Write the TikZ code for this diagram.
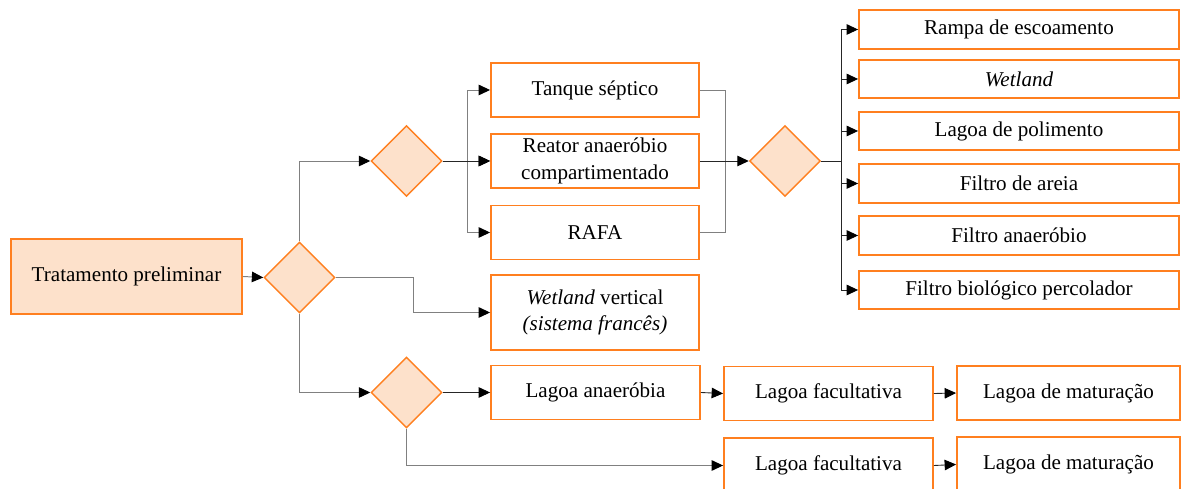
\documentclass[tikz,border=0pt]{standalone}
\usepackage{fontspec}
\setmainfont{Liberation Serif}
\usepackage{tikz}
\usetikzlibrary{shapes.geometric,arrows.meta}
\definecolor{borda}{HTML}{FF7F1F}
\definecolor{pessego}{HTML}{FDE1CB}
\definecolor{linha}{HTML}{808080}
\tikzset{
caixa/.style={draw=borda,line width=1.1pt,fill=white,minimum width=4.16cm,minimum height=1.08cm,align=center,inner sep=0pt,font=\fontsize{12}{15}\selectfont},
decisao/.style={diamond,draw=borda,line width=0.85pt,fill=pessego,minimum width=1.42cm,minimum height=1.42cm,inner sep=0pt},
ligacao/.style={draw=linha,line width=0.55pt},
seta/.style={draw=black!85,line width=0.5pt,-{Triangle[length=6.5pt,width=6pt,color=black]}},
setacinza/.style={ligacao,-{Triangle[length=6.5pt,width=6pt,color=black]}}
}

\begin{document}
\begin{tikzpicture}[x=0.02cm,y=-0.02cm]
\useasboundingbox(0,0)rectangle(1181,489);
\node[caixa,fill=pessego,minimum width=4.62cm,minimum height=1.5cm](prelim)at(126.5,276.5){Tratamento preliminar};
\node[decisao](d1)at(299.5,277.5){};
\node[decisao](d2)at(406.5,161){};
\node[decisao](d3)at(406.5,392.5){};
\node[decisao](d4)at(785,161){};
\node[caixa](tanque)at(595,90){Tanque séptico};
\node[caixa](reator)at(595,161){Reator anaeróbio\\compartimentado};
\node[caixa](rafa)at(595,232.5){RAFA};
\node[caixa,minimum height=1.5cm](wvert)at(595,312.5){\textit{Wetland} vertical\\\textit{(sistema francês)}};
\node[caixa,minimum width=4.18cm](lanaer)at(595.5,392.5){Lagoa anaeróbia};
\node[caixa,minimum width=4.18cm](lfac1)at(828.5,393.5){Lagoa facultativa};
\node[caixa,minimum width=4.46cm](lmat1)at(1068.5,393){Lagoa de maturação};
\node[caixa,minimum width=4.18cm,minimum height=1.1cm](lfac2)at(828.5,465.5){Lagoa facultativa};
\node[caixa,minimum width=4.46cm,minimum height=1.1cm](lmat2)at(1068.5,464.5){Lagoa de maturação};
\foreach\nome/\y/\texto in{r1/29.5/Rampa de escoamento,r2/79/\textit{Wetland},r3/131/Lagoa de polimento,r4/183.5/Filtro de areia,r5/235.5/Filtro anaeróbio,r6/290/Filtro biológico percolador}
\node[caixa,minimum width=6.4cm,minimum height=0.77cm](\nome)at(1019,\y){\texto};
\draw[setacinza](prelim.east)--(d1.west);
\draw[setacinza](d1.north)|-(d2.west);
\draw[setacinza](d1.south)|-(d3.west);
\draw[setacinza](d1.east)--++(78,0)|-(wvert.west);
\foreach\nome in{tanque,reator,rafa}
\draw[setacinza](d2.east)--++(25,0)|-(\nome.west);
\draw[seta](d2.east)--(reator.west);
\draw[ligacao](tanque.east)--++(26,0)|-(rafa.east);
\draw[seta](reator.east)--(d4.west);
\foreach\nome in{r1,r2,r3,r4,r5,r6}
\draw[seta](d4.east)--++(20,0)|-(\nome.west);
\draw[seta](d3.east)--(lanaer.west);
\draw[seta](lanaer.east)--(lfac1.west);
\draw[seta](lfac1.east)--(lmat1.west);
\draw[setacinza](d3.south)|-(lfac2.west);
\draw[seta](lfac2.east)--(lmat2.west);
\end{tikzpicture}
\end{document}
